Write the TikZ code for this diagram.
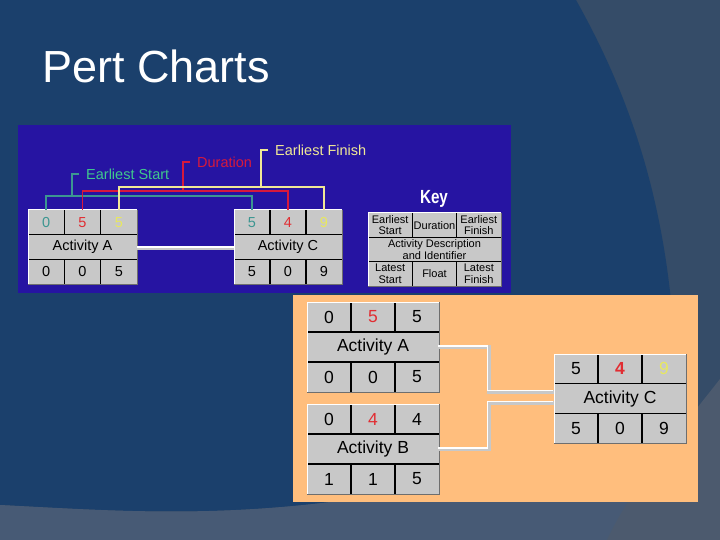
\documentclass[tikz,border=0pt]{standalone}
\usepackage{fontspec}
\setmainfont{Liberation Sans}
\usetikzlibrary{calc}
\definecolor{bgdark}{RGB}{27,64,108}
\definecolor{bgright}{RGB}{53,76,104}
\definecolor{bgband}{RGB}{71,90,117}
\definecolor{bglow}{RGB}{76,90,110}
\definecolor{panelblue}{RGB}{38,20,162}
\definecolor{panelorange}{RGB}{255,190,125}
\definecolor{cellgrey}{RGB}{200,200,200}
\definecolor{esgreen}{RGB}{64,200,140}
\definecolor{esteal}{RGB}{60,150,145}
\definecolor{durred}{RGB}{215,25,60}
\definecolor{efyellow}{RGB}{240,232,150}
\definecolor{numred}{RGB}{225,45,50}
\definecolor{numyellow}{RGB}{232,232,95}
\definecolor{edgeshade}{RGB}{110,110,110}
\definecolor{conngrey}{RGB}{200,200,200}
\tikzset{
  cellbox/.style={anchor=north west, inner sep=0pt, fill=cellgrey, draw=none},
  sepline/.style={black, line width=1.5pt},
  colline/.style={black, line width=1.2pt},
  celltext/.style={inner sep=0pt, align=center, font=\fontsize{14.5}{14.5}\selectfont},
  lbl/.style={anchor=west, inner xsep=7pt, font=\fontsize{14.5}{14.5}\selectfont},
  connshadow/.style={conngrey, line width=4pt},
  connwhite/.style={white, line width=1.6pt},
}
\newcommand\pbox[5]{\def\pbn{#1}\def\pbx{#2}\def\pby{#3}\def\pbw{#4}\def\pbh{#5}\pboxrest}
\newcommand\pboxrest[7]{%
  \node[cellbox, minimum width=\pbw pt, minimum height=\pbh pt] (\pbn) at (\pbx,\pby) {};
  \draw[sepline] ({\pbx},{\pby+\pbh/3}) -- ++(\pbw,0);
  \draw[sepline] ({\pbx},{\pby+2*\pbh/3}) -- ++(\pbw,0);
  \foreach \k in {1,2} {
    \draw[colline] ({\pbx+\k*\pbw/3},{\pby}) -- ++(0,{\pbh/3});
    \draw[colline] ({\pbx+\k*\pbw/3},{\pby+2*\pbh/3}) -- ++(0,{\pbh/3});
  }
  \draw[white, line width=1pt] (\pbn.south west) -- (\pbn.north west) -- (\pbn.north east);
  \draw[edgeshade, line width=1pt] (\pbn.north east) -- (\pbn.south east) -- (\pbn.south west);
  \node[celltext] (\pbn-t1) at ({\pbx+\pbw/6},{\pby+\pbh/6}) {#1};
  \node[celltext] (\pbn-t2) at ({\pbx+\pbw/2},{\pby+\pbh/6}) {#2};
  \node[celltext] (\pbn-t3) at ({\pbx+5*\pbw/6},{\pby+\pbh/6}) {#3};
  \node[celltext] (\pbn-m) at ({\pbx+\pbw/2},{\pby+\pbh/2}) {#4};
  \node[celltext] (\pbn-b1) at ({\pbx+\pbw/6},{\pby+5*\pbh/6}) {#5};
  \node[celltext] (\pbn-b2) at ({\pbx+\pbw/2},{\pby+5*\pbh/6}) {#6};
  \node[celltext] (\pbn-b3) at ({\pbx+5*\pbw/6},{\pby+5*\pbh/6}) {#7};
}
\begin{document}
\begin{tikzpicture}[x=1pt,y=-1pt]
\useasboundingbox (0,0) rectangle (720,540);
% background
\fill[bgright] (0,0) rectangle (720,540);
\fill[bgdark] (0,0) -- (576,0) .. controls (635,105) and (672,220) .. (676,380) -- (676,505) -- (330,502) .. controls (200,518) and (100,510) .. (0,505) -- cycle;
\fill[bgband] (0,505) .. controls (100,510) and (200,518) .. (330,502) -- (698,502) -- (698,540) -- (0,540) -- cycle;
\fill[bglow] (720,379) .. controls (680,430) and (630,490) .. (607,540) -- (720,540) -- cycle;
% title
\node[anchor=base west, text=white, inner sep=0pt, font=\fontsize{45}{45}\selectfont] (title) at (42,83) {Pert Charts};
% top panel
\fill[panelblue] (18,125) rectangle (511,293);
\pbox{A1}{28}{210}{109}{74}{\color{esteal}0}{\color{numred}5}{\color{numyellow}5}{Activity A}{0}{0}{5}
\pbox{C1}{234}{210}{108}{74}{\color{esteal}5}{\color{numred}4}{\color{numyellow}9}{Activity C}{5}{0}{9}
\draw[connshadow, line width=3pt] ([yshift=-1.5pt]A1.east) -- ([yshift=-1.5pt]C1.west);
\draw[connwhite] (A1.east) -- (C1.west);
% labels
\node[lbl, text=esgreen] (lblES) at (79,174) {Earliest Start};
\node[lbl, text=durred] (lblDur) at (190,162) {Duration};
\node[lbl, text=efyellow] (lblEF) at (268,150) {Earliest Finish};
\coordinate (esy) at (72,196);
\coordinate (duy) at (183,191);
\coordinate (efy) at (261,187);
\draw[esteal, line width=1.5pt] (lblES.west) -| (esy);
\draw[esteal, line width=1.5pt] (A1-t1 |- A1.north) -- (A1-t1 |- esy) -- (C1-t1 |- esy) -- (C1-t1 |- C1.north);
\draw[durred, line width=1.5pt] (lblDur.west) -| (duy);
\draw[durred, line width=1.5pt] (A1-t2 |- A1.north) -- (A1-t2 |- duy) -- (C1-t2 |- duy) -- (C1-t2 |- C1.north);
\draw[efyellow, line width=1.5pt] (lblEF.west) -| (efy);
\draw[efyellow, line width=1.5pt] (A1-t3 |- A1.north) -- (A1-t3 |- efy) -- (C1-t3 |- efy) -- (C1-t3 |- C1.north);
% key
\node[text=white, font=\bfseries\fontsize{19}{19}\selectfont, inner sep=0pt] (keylbl) at (434,199) {\scalebox{0.8}[1]{Key}};
\begin{scope}[celltext/.style={inner sep=0pt, align=center, font=\fontsize{11}{11.5}\selectfont}]
\pbox{K}{368}{213}{133}{73}{Earliest\\Start}{Duration}{Earliest\\Finish}{Activity Description\\and Identifier}{Latest\\Start}{Float}{Latest\\Finish}
\end{scope}
% bottom panel
\fill[panelorange] (293,295) rectangle (698,502);
\begin{scope}[celltext/.style={inner sep=0pt, align=center, font=\fontsize{17.5}{17.5}\selectfont}]
\pbox{A2}{307}{302}{132}{90}{0}{\color{numred}5}{5}{Activity A}{0}{0}{5}
\pbox{B2}{307}{404}{132}{90}{0}{\color{numred}4}{4}{Activity B}{1}{1}{5}
\pbox{C2}{554}{354}{132}{89}{5}{\color{numred}\bfseries 4}{\color{numyellow}9}{Activity C}{5}{0}{9}
\end{scope}
\coordinate (jA) at (489,392);
\coordinate (jB) at (489,403);
\draw[connshadow] (A2.east) -| (jA) -- (jA -| C2.west);
\draw[connshadow] (B2.east) -| (jB) -- (jB -| C2.west);
\draw[connwhite] ([xshift=-1.5pt,yshift=1.5pt]A2.east) -| ([xshift=-1.5pt,yshift=1.5pt]jA) -- ([xshift=-1.5pt,yshift=1.5pt]jA -| C2.west);
\draw[connwhite] ([xshift=-1.5pt,yshift=1.5pt]B2.east) -| ([xshift=-1.5pt,yshift=1.5pt]jB) -- ([xshift=-1.5pt,yshift=1.5pt]jB -| C2.west);
\end{tikzpicture}
\end{document}
